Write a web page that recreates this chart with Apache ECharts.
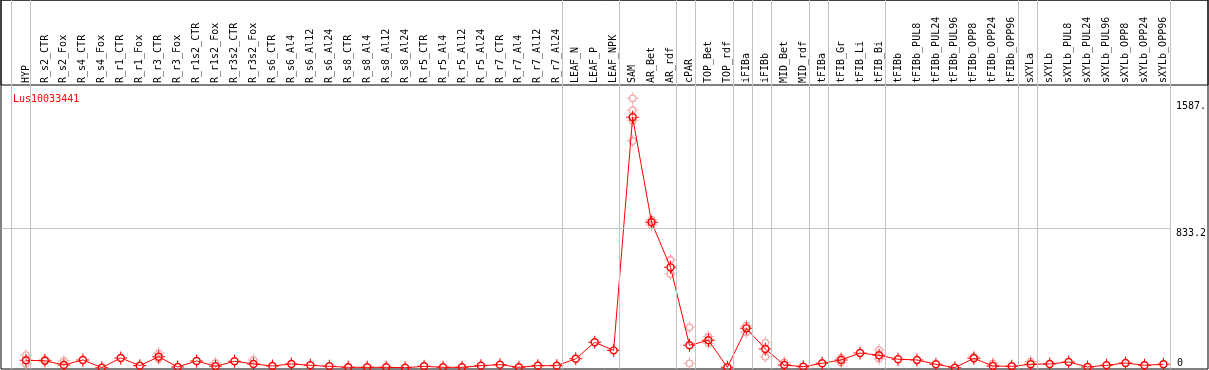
<!DOCTYPE html>
<html>
<head>
<meta charset="utf-8">
<script src="https://cdn.jsdelivr.net/npm/echarts@6/dist/echarts.min.js"></script>
<style>
  html, body { margin: 0; padding: 0; background: #fff; }
  #chart { width: 1209px; height: 370px; }
</style>
</head>
<body>
<div id="chart"></div>
<script>
  var geneName = 'Lus10033441';

  var categories = [
    'HYP', 'R_s2_CTR', 'R_s2_Fox', 'R_s4_CTR', 'R_s4_Fox', 'R_r1_CTR', 'R_r1_Fox', 'R_r3_CTR', 'R_r3_Fox',
    'R_r1s2_CTR', 'R_r1s2_Fox', 'R_r3s2_CTR', 'R_r3s2_Fox', 'R_s6_CTR', 'R_s6_Al4', 'R_s6_Al12', 'R_s6_Al24',
    'R_s8_CTR', 'R_s8_Al4', 'R_s8_Al12', 'R_s8_Al24', 'R_r5_CTR', 'R_r5_Al4', 'R_r5_Al12', 'R_r5_Al24',
    'R_r7_CTR', 'R_r7_Al4', 'R_r7_Al12', 'R_r7_Al24', 'LEAF_N', 'LEAF_P', 'LEAF_NPK', 'SAM', 'AR_Bet', 'AR_rdf',
    'cPAR', 'TOP_Bet', 'TOP_rdf', 'iFIBa', 'iFIBb', 'MID_Bet', 'MID_rdf', 'tFIBa', 'tFIB_Gr', 'tFIB_Li', 'tFIB_Bi',
    'tFIBb', 'tFIBb_PUL8', 'tFIBb_PUL24', 'tFIBb_PUL96', 'tFIBb_OPP8', 'tFIBb_OPP24', 'tFIBb_OPP96',
    'sXYLa', 'sXYLb', 'sXYLb_PUL8', 'sXYLb_PUL24', 'sXYLb_PUL96', 'sXYLb_OPP8', 'sXYLb_OPP24', 'sXYLb_OPP96'
  ];

  // mean expression per sample
  var meanValues = [
    46, 43, 18, 48, 2, 60, 14, 67, 6, 42,
    10, 40, 24, 12, 24, 16, 10, 4, 4, 4,
    2, 10, 4, 4, 14, 20, 4, 14, 14, 55,
    153, 105, 1492, 867, 599, 135, 165, 4, 236, 113,
    18, 8, 28, 48, 89, 76, 52, 48, 22, 2,
    58, 12, 10, 22, 24, 36, 6, 16, 30, 16, 22
  ];

  // individual replicates that stand apart from the mean
  var replicatePoints = [
    ['HYP', 77], ['HYP', 24], ['R_s2_CTR', 52], ['R_s2_Fox', 43], ['R_r3_CTR', 89], ['R_r3_CTR', 54],
    ['R_r1s2_Fox', 30], ['R_r3s2_Fox', 48], ['SAM', 1605], ['SAM', 1534], ['SAM', 1472], ['SAM', 1351],
    ['AR_Bet', 881], ['AR_Bet', 851], ['AR_rdf', 643], ['AR_rdf', 560], ['cPAR', 242], ['cPAR', 28],
    ['TOP_Bet', 186], ['TOP_Bet', 147], ['iFIBa', 252], ['iFIBa', 213], ['iFIBb', 151], ['iFIBb', 67],
    ['MID_Bet', 34], ['tFIB_Gr', 32], ['tFIB_Gr', 60], ['tFIB_Bi', 107], ['tFIB_Bi', 55],
    ['tFIBb_OPP8', 68], ['tFIBb_OPP24', 28], ['sXYLa', 38]
  ];

  // number of samples in each tissue group (gray separators)
  var groupSizes = [1, 28, 3, 3, 1, 2, 1, 1, 2, 1, 3, 7, 1, 7];

  var yMax = 1684;
  var midLine = 833.2;
  var yTopLabels = [833.2, 1587.5];
  var yBottomLabels = [0];

  var font = 'DejaVu Sans Mono';
  var ringSymbol = 'path://M4.5,10 A5.5,5.5 0 1,1 15.5,10 A5.5,5.5 0 1,1 4.5,10 Z ' +
    'M6.4,10 A3.6,3.6 0 1,0 13.6,10 A3.6,3.6 0 1,0 6.4,10 Z ' +
    'M9.3,1.5 L10.7,1.5 L10.7,4.5 L9.3,4.5 Z M9.3,15.5 L10.7,15.5 L10.7,18.5 L9.3,18.5 Z ' +
    'M1.5,9.3 L4.5,9.3 L4.5,10.7 L1.5,10.7 Z M15.5,9.3 L18.5,9.3 L18.5,10.7 L15.5,10.7 Z';

  var boundaries = [0];
  groupSizes.forEach(function (n) { boundaries.push(boundaries[boundaries.length - 1] + n); });

  var chart = echarts.init(document.getElementById('chart'));

  var option = {
    animation: false,
    textStyle: { fontFamily: font },
    title: {
      text: geneName,
      left: 8, top: 89,
      textStyle: { fontFamily: font, fontSize: 10, fontWeight: 'normal', color: '#ff0000' }
    },
    grid: [
      { left: 1, right: 1, top: 0, bottom: 1, show: true, borderColor: '#000', borderWidth: 1 },
      { left: 1, right: 1, top: 0, height: 85, show: true, borderColor: '#000', borderWidth: 1 },
      { left: 16.5, width: 1159, top: 85, bottom: 2 },
      { left: 11, width: 1159, top: 0, bottom: 1 },
      { left: 1, width: 1169, top: 85, bottom: 2 }
    ],
    xAxis: [
      {
        gridIndex: 2, type: 'category', position: 'top', data: categories,
        axisLine: { show: false }, axisTick: { show: false }, splitLine: { show: false },
        axisLabel: { interval: 0, rotate: 90, margin: 2, fontFamily: font, fontSize: 10, color: '#000' }
      },
      { gridIndex: 3, type: 'value', min: 0, max: categories.length, show: false },
      { gridIndex: 4, type: 'value', min: 0, max: 1, show: false }
    ],
    yAxis: [
      {
        gridIndex: 2, type: 'value', min: 0, max: yMax, position: 'right',
        axisLine: { show: false }, axisTick: { show: false }, splitLine: { show: false },
        axisLabel: {
          customValues: yTopLabels, margin: 3, verticalAlign: 'top', align: 'left',
          fontFamily: font, fontSize: 10, color: '#000',
          width: 33, overflow: 'truncate', ellipsis: '',
          formatter: function (v) { return String(v); }
        }
      },
      {
        gridIndex: 2, type: 'value', min: 0, max: yMax, position: 'right',
        axisLine: { show: false }, axisTick: { show: false }, splitLine: { show: false },
        axisLabel: {
          customValues: yBottomLabels, margin: 4, verticalAlign: 'bottom', align: 'left',
          fontFamily: font, fontSize: 10, color: '#000',
          formatter: function (v) { return String(v); }
        }
      },
      { gridIndex: 3, type: 'value', min: 0, max: 1, show: false },
      { gridIndex: 4, type: 'value', min: 0, max: yMax, show: false }
    ],
    series: [
      {
        type: 'line', xAxisIndex: 1, yAxisIndex: 2, data: [], silent: true, z: 1,
        markLine: {
          silent: true, symbol: ['none', 'none'], label: { show: false },
          lineStyle: { color: '#c4c4c4', width: 1, type: 'solid' },
          data: boundaries.map(function (b) { return { xAxis: b }; })
        }
      },
      {
        type: 'line', xAxisIndex: 2, yAxisIndex: 3, data: [], silent: true, z: 1,
        markLine: {
          silent: true, symbol: ['none', 'none'], label: { show: false },
          lineStyle: { color: '#c4c4c4', width: 1, type: 'solid' },
          data: [{ yAxis: midLine }]
        }
      },
      {
        type: 'scatter', xAxisIndex: 0, yAxisIndex: 0, data: replicatePoints, z: 3,
        symbol: ringSymbol, symbolSize: 12,
        itemStyle: { color: '#ee9494' },
        emphasis: { disabled: true }
      },
      {
        type: 'line', xAxisIndex: 0, yAxisIndex: 0, data: meanValues, z: 4,
        symbol: ringSymbol, symbolSize: 13, showAllSymbol: true,
        lineStyle: { color: '#ff0000', width: 1 },
        itemStyle: { color: '#ff0000' },
        emphasis: { disabled: true }
      }
    ]
  };

  chart.setOption(option);
</script>
</body>
</html>
